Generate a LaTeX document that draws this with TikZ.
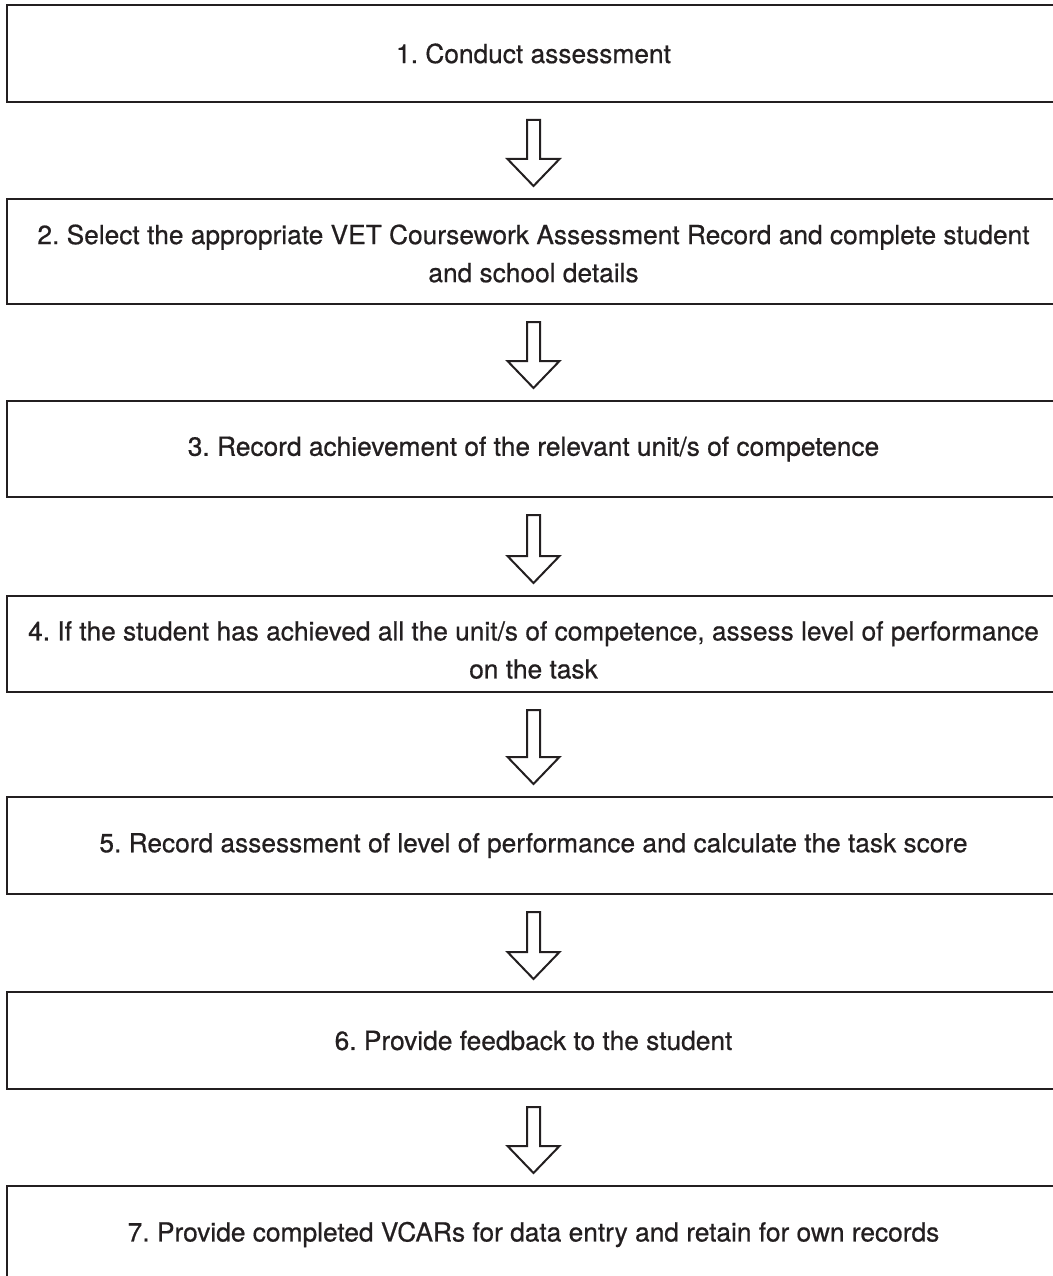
\documentclass[tikz,border=0pt]{standalone}
\usepackage{fontspec}
\setmainfont{TeX Gyre Heros}
\newfontfamily\medfont{TeX Gyre Heros}[FakeBold=0.6]
\usetikzlibrary{calc}
\definecolor{ink}{HTML}{231F20}
\frenchspacing
\tikzset{
  stepbox/.style={draw=ink, line width=2pt, minimum width=1053pt, inner sep=0pt,
    align=center, text=ink, font=\medfont\fontsize{26.3}{38}\selectfont},
  steptext/.style={inner sep=0pt, align=center, text=ink,
    font=\medfont\fontsize{26.3}{38}\selectfont},
  hollow/.style={draw=ink, line width=2pt, line join=miter, fill=white}
}
\newcommand\hollowarrow[2]{%
  \draw[hollow] ($(#1.south)+(-6.5,17)$) -- ($(#1.south)+(6.5,17)$)
    -- ($(#2.north)+(6.5,-39)$) -- ($(#2.north)+(26,-39)$)
    -- ($(#2.north)+(0,-12)$) -- ($(#2.north)+(-26,-39)$)
    -- ($(#2.north)+(-6.5,-39)$) -- cycle;}
\begin{document}
\begin{tikzpicture}[x=1pt,y=-1pt]
\useasboundingbox (0,0) rectangle (1052,1276);
\node[stepbox, minimum height=97pt] (b1) at (533.5,53.5) {1. Conduct assessment};
\node[stepbox, minimum height=105pt] (b2) at (533.5,251.5) {};
\node[steptext] (t2) at ($(b2.center)+(0,2)$) {2. Select the appropriate VET Coursework Assessment Record and complete student\\and school details};
\node[stepbox, minimum height=96pt] (b3) at (533.5,449) {3. Record achievement of the relevant unit/s of competence};
\node[stepbox, minimum height=96pt] (b4) at (533.5,644) {};
\node[steptext] (t4) at ($(b4.center)+(0,6)$) {4. If the student has achieved all the unit/s of competence, assess level of performance\\on the task};
\node[stepbox, minimum height=97pt] (b5) at (533.5,845.5) {5. Record assessment of level of performance and calculate the task score};
\node[stepbox, minimum height=97pt] (b6) at (533.5,1040.5) {6. Provide feedback to the student};
\node[stepbox, minimum height=97pt] (b7) at (533.5,1234.5) {7. Provide completed VCARs for data entry and retain for own records};
\hollowarrow{b1}{b2}
\hollowarrow{b2}{b3}
\hollowarrow{b3}{b4}
\hollowarrow{b4}{b5}
\hollowarrow{b5}{b6}
\hollowarrow{b6}{b7}
\end{tikzpicture}
\end{document}
